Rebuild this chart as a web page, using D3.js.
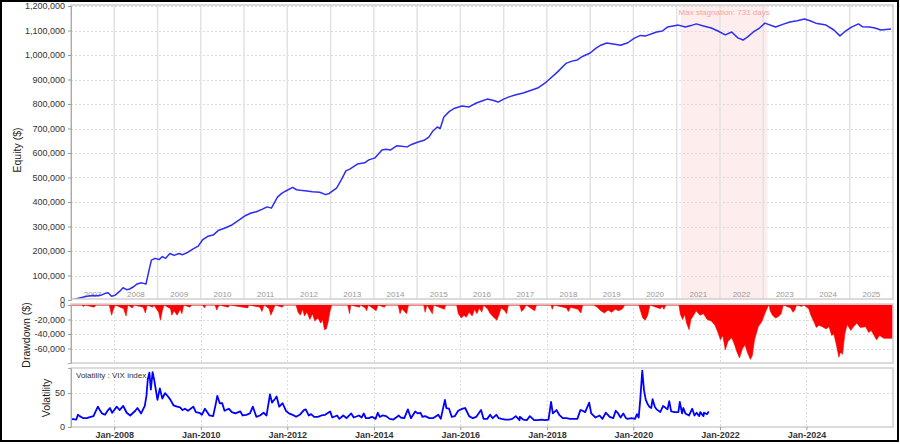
<!DOCTYPE html>
<html><head><meta charset="utf-8">
<script src="https://cdn.jsdelivr.net/npm/d3@7"></script>
<style>
html,body{margin:0;padding:0;background:#fff;}
svg{display:block;font-family:"Liberation Sans",Arial,sans-serif;}
</style></head>
<body>
<svg id="chart" width="900" height="444"></svg>
<script>
// ---------------- DATA ----------------
// Equity curve, values in thousands of dollars
const equityDates = ["2007-01-01","2007-02-15","2007-04-01","2007-05-15","2007-07-01","2007-08-15","2007-09-15","2007-10-20","2007-11-10","2007-12-10",
"2008-01-10","2008-02-15","2008-03-15","2008-04-15","2008-05-10","2008-06-15","2008-07-10","2008-08-20","2008-09-25","2008-10-20","2008-11-10","2008-12-10",
"2009-01-15","2009-02-10","2009-03-10","2009-04-15","2009-05-20","2009-07-01","2009-08-01","2009-09-15","2009-11-01","2009-12-10",
"2010-01-15","2010-03-01","2010-04-15","2010-06-01","2010-07-15","2010-09-15","2010-11-15",
"2011-01-15","2011-03-01","2011-04-15","2011-06-01","2011-07-15","2011-08-20","2011-10-10","2011-11-15","2011-12-20",
"2012-02-15","2012-03-20","2012-04-20","2012-06-15","2012-08-01","2012-10-01","2012-11-20","2012-12-20",
"2013-02-20","2013-04-01","2013-05-10","2013-06-15","2013-08-15","2013-10-15","2013-11-20",
"2014-01-10","2014-03-10","2014-04-15","2014-05-20","2014-07-15","2014-08-20","2014-10-10","2014-11-15",
"2015-01-10","2015-03-01","2015-04-10","2015-05-15","2015-06-20","2015-07-15","2015-08-15","2015-10-01","2015-11-15",
"2016-01-15","2016-03-15","2016-05-15","2016-07-01","2016-08-15","2016-10-01","2016-11-15",
"2017-01-01","2017-02-15","2017-04-15","2017-06-15","2017-08-15","2017-10-15","2017-12-15",
"2018-01-15","2018-04-01","2018-06-15","2018-08-01","2018-09-15","2018-11-01",
"2019-01-01","2019-02-20","2019-04-01","2019-05-20","2019-07-15","2019-09-15","2019-11-15",
"2020-01-10","2020-03-01","2020-04-15","2020-07-15","2020-09-01","2020-10-15","2020-12-01",
"2021-01-15","2021-03-15","2021-05-01","2021-06-15","2021-08-15","2021-10-20","2021-12-15",
"2022-02-15","2022-04-10","2022-06-01","2022-07-15","2022-08-20","2022-10-10","2022-12-01",
"2023-01-15","2023-04-15","2023-06-15","2023-08-15","2023-10-15","2023-12-15",
"2024-02-01","2024-03-20","2024-06-15","2024-08-20","2024-10-10","2024-11-20",
"2025-01-15","2025-03-15","2025-04-20","2025-06-15","2025-08-01","2025-09-20","2025-12-15"];
const equityValues = [0,5,10,15,18,17,20,28,30,15,
20,35,50,42,45,55,65,70,65,120,163,170,
165,177,170,190,182,190,185,195,210,220,
245,260,265,285,292,305,325,
345,355,360,370,380,375,420,435,445,
460,450,448,445,442,440,430,435,
457,490,527,535,555,560,572,
580,612,615,612,630,628,625,635,
645,652,665,690,706,700,747,770,783,
792,788,804,812,820,815,808,
820,829,838,845,855,865,885,
898,931,967,975,980,995,
1008,1028,1040,1049,1045,1040,1050,
1069,1080,1078,1094,1098,1114,1118,
1122,1114,1120,1127,1118,1110,1098,
1082,1094,1070,1061,1073,1094,1110,
1130,1114,1125,1135,1140,1147,
1140,1130,1122,1102,1078,1095,
1114,1127,1115,1114,1110,1102,1106];

// Drawdown, values in thousands of dollars
const drawdownDates = ["2007-01-01","2007-04-01","2007-04-15","2007-05-01","2007-07-15","2007-08-01","2007-11-20","2007-12-10","2007-12-25","2008-01-10",
"2008-03-20","2008-04-10","2008-04-25","2008-06-01","2008-06-15","2008-09-01","2008-09-20","2008-10-05","2008-11-20","2008-12-01",
"2009-01-10","2009-01-25","2009-02-10","2009-02-25","2009-04-20","2009-05-01","2009-05-20","2009-06-15","2009-07-10","2009-07-25","2009-08-10","2009-10-01","2009-10-15",
"2010-01-15","2010-02-01","2010-02-10","2010-05-01","2010-05-15","2010-06-05","2010-08-20","2010-09-01",
"2011-02-01","2011-02-10","2011-05-15","2011-06-01","2011-06-20","2011-08-01","2011-08-15","2011-09-01","2011-09-20","2011-11-20","2011-12-01",
"2012-03-15","2012-04-01","2012-04-20","2012-05-10","2012-05-25","2012-06-15","2012-07-10","2012-08-01","2012-08-20","2012-09-15","2012-10-10","2012-10-25","2012-11-10","2012-11-25","2012-12-10","2012-12-25",
"2013-01-10","2013-05-25","2013-06-10","2013-06-20","2013-09-01","2013-09-10","2013-10-20","2013-11-01","2013-11-15",
"2014-01-20","2014-02-05","2014-04-01","2014-04-10","2014-07-25","2014-08-10","2014-08-25","2014-10-05","2014-10-20",
"2015-02-25","2015-03-10","2015-03-25","2015-05-10","2015-05-20","2015-08-20","2015-08-30","2015-12-01","2015-12-15",
"2016-01-10","2016-02-01","2016-02-20","2016-03-15","2016-04-10","2016-05-01","2016-05-20","2016-06-10","2016-06-30","2016-07-15","2016-08-20","2016-09-10","2016-10-15","2016-11-05","2016-11-25","2016-12-10",
"2017-01-10","2017-01-25","2017-02-10","2017-05-15","2017-06-01","2017-06-20","2017-07-10","2017-09-20","2017-10-05",
"2018-02-05","2018-02-15","2018-02-28","2018-06-15","2018-07-01","2018-07-20","2018-09-20","2018-10-15","2018-10-30",
"2019-02-01","2019-03-01","2019-04-01","2019-05-01","2019-06-01","2019-07-01","2019-08-01","2019-09-01","2019-10-01","2019-10-20",
"2020-02-15","2020-03-01","2020-03-20","2020-04-10","2020-05-01","2020-05-20","2020-08-15","2020-09-01","2020-09-15","2020-10-01",
"2021-01-20","2021-02-01","2021-02-20","2021-03-10","2021-03-25","2021-04-15","2021-05-01","2021-05-20","2021-06-15","2021-07-15","2021-08-15","2021-09-15","2021-10-20","2021-11-20","2021-12-15",
"2022-01-05","2022-01-25","2022-02-15","2022-03-10","2022-04-10","2022-05-05","2022-05-25","2022-06-15","2022-07-10","2022-08-01","2022-08-20","2022-09-15","2022-10-01","2022-10-20","2022-11-20","2022-12-20",
"2023-01-20","2023-02-10","2023-02-20","2023-03-01","2023-03-20","2023-04-15","2023-05-10","2023-06-01","2023-06-20","2023-08-20","2023-09-10","2023-09-25","2023-10-10","2023-11-20","2023-12-10",
"2024-01-20","2024-02-10","2024-03-10","2024-03-25","2024-04-15","2024-05-15","2024-06-15","2024-07-10","2024-08-01","2024-08-20","2024-09-10","2024-10-01","2024-10-15","2024-11-01","2024-11-20","2024-12-10",
"2025-01-10","2025-02-01","2025-03-01","2025-04-01","2025-05-15","2025-06-10","2025-07-01","2025-08-15","2025-09-10","2025-10-15","2025-12-31"];
const drawdownValues = [0,0,-2,0,-3,0,0,-14,-6,0,
-5,-15,0,-4,0,-3,-11,0,-3,0,
-10,-21,-8,0,-5,-14,-8,-14,-6,-12,0,-3,0,
0,-4,0,0,-7,0,-3,0,
-4,0,-3,-9,0,-5,-14,-8,0,-3,0,
0,-10,-14,-6,-15,-10,-20,-12,-22,-18,-25,-20,-34,-33,-24,-10,
0,0,-12,0,-3,0,-4,-8,0,
-8,0,-3,0,0,-12,-5,-12,0,
0,-10,0,-12,0,-6,0,0,-12,
-18,-14,-17,-10,-15,-6,-12,-4,-10,0,-6,-12,-18,-21,-12,-4,
-8,-12,0,0,-9,-6,0,-8,0,
0,-6,0,-4,-9,-3,-6,-11,0,
0,-3,-8,-11,-7,-10,-6,-8,-5,0,
0,-8,-18,-21,-14,0,-5,-2,-6,0,
0,-13,-20,-13,-25,-34,-20,-15,-8,-14,-12,-20,-22,-28,-38,
-48,-42,-62,-50,-45,-55,-65,-73,-60,-55,-65,-75,-70,-48,-30,-23,
-10,-2,0,-8,-14,-18,-16,-12,0,-4,-10,-7,0,-2,0,
-5,-15,-25,-31,-28,-30,-33,-30,-42,-40,-55,-72,-65,-68,-40,-27,
-35,-30,-25,-31,-30,-38,-35,-48,-42,-46,-46];

// Volatility (VIX index)
const vixDates = ["2007-01-01","2007-02-15","2007-02-28","2007-03-15","2007-04-15","2007-05-15","2007-06-15","2007-07-10","2007-07-31","2007-08-16","2007-09-01","2007-09-20","2007-10-15","2007-11-10","2007-11-26","2007-12-15",
"2008-01-22","2008-02-15","2008-03-17","2008-04-15","2008-05-15","2008-06-27","2008-07-15","2008-08-15","2008-09-15","2008-09-29","2008-10-10","2008-10-24","2008-11-05","2008-11-20","2008-12-05","2008-12-31",
"2009-01-20","2009-02-10","2009-03-05","2009-03-30","2009-04-20","2009-05-15","2009-06-15","2009-07-10","2009-07-31","2009-08-20","2009-09-15","2009-10-30","2009-11-20","2009-12-20",
"2010-01-10","2010-02-05","2010-03-15","2010-04-15","2010-05-06","2010-05-20","2010-06-10","2010-07-01","2010-07-20","2010-08-25","2010-09-20","2010-10-20","2010-11-30","2010-12-20",
"2011-01-20","2011-02-20","2011-03-16","2011-04-15","2011-05-15","2011-06-15","2011-07-10","2011-08-08","2011-08-25","2011-09-22","2011-10-03","2011-10-25","2011-11-23","2011-12-20",
"2012-01-15","2012-02-15","2012-03-15","2012-04-15","2012-05-20","2012-06-05","2012-06-30","2012-07-20","2012-08-15","2012-09-15","2012-10-15","2012-11-15","2012-12-28",
"2013-01-15","2013-02-25","2013-03-15","2013-04-18","2013-05-15","2013-06-24","2013-07-15","2013-08-28","2013-09-20","2013-10-08","2013-10-25","2013-11-20","2013-12-15",
"2014-01-15","2014-02-03","2014-02-20","2014-03-15","2014-04-15","2014-05-15","2014-06-15","2014-07-31","2014-08-15","2014-09-15","2014-10-15","2014-11-10","2014-12-16",
"2015-01-05","2015-01-30","2015-02-15","2015-03-10","2015-04-15","2015-05-15","2015-06-29","2015-07-20","2015-08-24","2015-09-05","2015-09-28","2015-10-20","2015-11-15","2015-12-14",
"2016-01-20","2016-02-11","2016-03-15","2016-04-15","2016-05-15","2016-06-24","2016-07-15","2016-08-15","2016-09-09","2016-09-30","2016-10-31","2016-11-20","2016-12-15",
"2017-01-15","2017-02-15","2017-03-15","2017-04-13","2017-05-15","2017-05-17","2017-06-15","2017-07-15","2017-08-10","2017-09-15","2017-10-15","2017-11-15","2017-12-15",
"2018-01-15","2018-02-05","2018-02-20","2018-03-23","2018-04-15","2018-05-15","2018-06-15","2018-07-15","2018-08-15","2018-09-15","2018-10-11","2018-10-29","2018-11-20","2018-12-24",
"2019-01-10","2019-02-15","2019-03-22","2019-04-15","2019-05-13","2019-05-31","2019-06-15","2019-07-15","2019-08-05","2019-08-25","2019-09-15","2019-10-08","2019-10-30","2019-11-15","2019-12-15",
"2020-01-15","2020-01-31","2020-02-15","2020-02-28","2020-03-16","2020-03-31","2020-04-15","2020-04-30","2020-05-15","2020-05-31","2020-06-11","2020-06-30","2020-07-15","2020-08-15","2020-09-08","2020-09-24","2020-10-15","2020-10-30","2020-11-15","2020-12-15",
"2021-01-15","2021-01-27","2021-02-15","2021-02-26","2021-03-15","2021-04-15","2021-05-12","2021-05-31","2021-06-18","2021-07-10","2021-07-19","2021-08-15","2021-08-19","2021-09-15","2021-09-28"];
const vixValues = [12,11,18,16,13,13,15,16,24,30,25,20,18,25,28,21,
30,25,31,21,17,24,28,20,31,46,70,80,55,81,68,40,
57,42,50,45,40,32,30,29,25,27,24,30,22,21,
18,27,17,16,33,46,35,35,24,27,22,20,23,17,
18,20,30,15,17,21,17,48,36,42,45,30,35,24,
20,18,15,18,25,26,17,19,15,15,17,18,23,
14,17,12,17,13,20,14,17,14,20,13,13,15,
12,21,15,17,16,12,11,17,14,13,26,13,23,
20,21,15,16,13,13,18,12,40,28,27,15,16,24,
27,28,16,13,15,25,12,12,18,13,18,13,12,
11,11,12,16,10,15,11,10,16,10,10,11,10,
11,37,20,25,18,13,13,12,12,12,25,24,22,36,
20,14,17,12,21,18,15,13,24,20,14,20,13,12,13,
12,19,14,40,83,54,40,34,30,28,41,30,26,22,31,29,26,38,23,22,
22,37,20,28,20,17,27,17,21,16,22,16,21,19,23];

// Axis tick values / labels
const equityTicks = [0,100000,200000,300000,400000,500000,600000,700000,800000,900000,1000000,1100000,1200000];
const drawdownTicks = [0,-20000,-40000,-60000];
const vixTicks = [0,50];
const yearLabels = [2007,2008,2009,2010,2011,2012,2013,2014,2015,2016,2017,2018,2019,2020,2021,2022,2023,2024,2025];
const bottomTickYears = [2008,2010,2012,2014,2016,2018,2020,2022,2024];
const stagnationStart = "2021-02-05";
const stagnationDays = 731;
const stagnationLabel = "Max stagnation: " + stagnationDays + " days";

// ---------------- DRAWING ----------------
const parse = d3.timeParse("%Y-%m-%d");
const svg = d3.select("#chart");
const L = 71, R = 893;
const P1 = {top: 5, bottom: 299};
const P2 = {top: 304, bottom: 363};
const P3 = {top: 368, bottom: 427};

const x = d3.scaleTime().domain([new Date(2007,0,1), new Date(2026,0,1)]).range([L, R]);
const yEq = d3.scaleLinear().domain([0, 1200000]).range([300, 6]);
const yDD = d3.scaleLinear().domain([-80000, 0]).range([363, 305]);
const yVol = d3.scaleLinear().domain([0, 87]).range([427, 368]);

const eq = equityDates.map((d,i) => ({date: parse(d), v: equityValues[i]*1000}));
const dd = drawdownDates.map((d,i) => ({date: parse(d), v: drawdownValues[i]*1000}));
const vix = vixDates.map((d,i) => ({date: parse(d), v: vixValues[i]}));

svg.append("rect").attr("width",900).attr("height",444).attr("fill","#fff");

// clip paths
const defs = svg.append("defs");
[["c1",P1],["c2",P2],["c3",P3]].forEach(([id,p]) => {
  defs.append("clipPath").attr("id",id).append("rect")
    .attr("x",L).attr("y",p.top).attr("width",R-L).attr("height",p.bottom-p.top);
});

const fmt = d => d3.format(",")(d).replace("\u2212","-");
const gridColor = "#dcdcdc";

// ---- Panel 1: equity ----
const g1 = svg.append("g");
// stagnation band
const s0 = parse(stagnationStart), s1 = d3.timeDay.offset(s0, stagnationDays);
g1.append("rect").attr("x",x(s0)).attr("y",P1.top).attr("width",x(s1)-x(s0)).attr("height",P1.bottom-P1.top)
  .attr("fill","#fdeded");
// horizontal grid
g1.selectAll(".hg").data(equityTicks.slice(1)).join("line")
  .attr("x1",L).attr("x2",R).attr("y1",d=>Math.round(yEq(d))+0.5).attr("y2",d=>Math.round(yEq(d))+0.5)
  .attr("stroke",gridColor).attr("stroke-dasharray","2,2");
// year separators
g1.selectAll(".ys").data(yearLabels.slice(1)).join("line")
  .attr("x1",d=>x(new Date(d,0,1))).attr("x2",d=>x(new Date(d,0,1)))
  .attr("y1",P1.top).attr("y2",P1.bottom)
  .attr("stroke","#e2e2e2").attr("stroke-width",1.5);
// year labels
g1.selectAll(".yl").data(yearLabels).join("text")
  .attr("x",d=>(x(new Date(d,0,1))+x(new Date(d+1,0,1)))/2).attr("y",296.5)
  .attr("text-anchor","middle").attr("font-size",8).attr("fill","#999").text(d=>d);
// stagnation label
g1.append("text").attr("x",(x(s0)+x(s1))/2).attr("y",14.5).attr("text-anchor","middle")
  .attr("font-size",8).attr("fill","#f4a4a4").text(stagnationLabel);
// equity line
g1.append("path").datum(eq).attr("clip-path","url(#c1)")
  .attr("d", d3.line().x(d=>x(d.date)).y(d=>yEq(d.v)))
  .attr("fill","none").attr("stroke","#2d2df5").attr("stroke-width",1.5).attr("stroke-linejoin","round");
// border
g1.append("rect").attr("x",L).attr("y",P1.top).attr("width",R-L).attr("height",P1.bottom-P1.top)
  .attr("fill","none").attr("stroke","#cfcfcf").attr("stroke-width",1.5);
// axis
const a1 = svg.append("g").attr("transform",`translate(${L},0)`)
  .call(d3.axisLeft(yEq).tickValues(equityTicks).tickFormat(fmt).tickSize(3).tickPadding(3));

// ---- Panel 2: drawdown ----
const g2 = svg.append("g");
g2.selectAll(".hg").data(drawdownTicks.slice(1)).join("line")
  .attr("x1",L).attr("x2",R).attr("y1",d=>Math.round(yDD(d))+0.5).attr("y2",d=>Math.round(yDD(d))+0.5)
  .attr("stroke",gridColor).attr("stroke-dasharray","2,2");
g2.selectAll(".vg").data(bottomTickYears).join("line")
  .attr("x1",d=>Math.round(x(new Date(d,0,1)))+0.5).attr("x2",d=>Math.round(x(new Date(d,0,1)))+0.5)
  .attr("y1",P2.top).attr("y2",P2.bottom).attr("stroke",gridColor).attr("stroke-dasharray","2,2");
g2.append("path").datum(dd).attr("clip-path","url(#c2)")
  .attr("d", d3.area().x(d=>x(d.date)).y0(yDD(0)).y1(d=>yDD(d.v)))
  .attr("fill","#ff0000").attr("stroke","#ff0000").attr("stroke-width",0.6);
g2.append("rect").attr("x",L).attr("y",P2.top).attr("width",R-L).attr("height",P2.bottom-P2.top)
  .attr("fill","none").attr("stroke","#cfcfcf").attr("stroke-width",1.5);
svg.append("g").attr("transform",`translate(${L},0)`)
  .call(d3.axisLeft(yDD).tickValues(drawdownTicks).tickFormat(fmt).tickSize(3).tickPadding(3));

// ---- Panel 3: volatility ----
const g3 = svg.append("g");
g3.selectAll(".hg").data(vixTicks.slice(1)).join("line")
  .attr("x1",L).attr("x2",R).attr("y1",d=>Math.round(yVol(d))+0.5).attr("y2",d=>Math.round(yVol(d))+0.5)
  .attr("stroke",gridColor).attr("stroke-dasharray","2,2");
g3.selectAll(".vg").data(bottomTickYears).join("line")
  .attr("x1",d=>Math.round(x(new Date(d,0,1)))+0.5).attr("x2",d=>Math.round(x(new Date(d,0,1)))+0.5)
  .attr("y1",P3.top).attr("y2",P3.bottom).attr("stroke",gridColor).attr("stroke-dasharray","2,2");
g3.append("path").datum(vix).attr("clip-path","url(#c3)")
  .attr("d", d3.line().x(d=>x(d.date)).y(d=>yVol(d.v)))
  .attr("fill","none").attr("stroke","#0000ff").attr("stroke-width",1.8).attr("stroke-linejoin","round");
g3.append("rect").attr("x",L).attr("y",P3.top).attr("width",R-L).attr("height",P3.bottom-P3.top)
  .attr("fill","none").attr("stroke","#cfcfcf").attr("stroke-width",1.5);
g3.append("text").attr("x",L+5).attr("y",P3.top+10).attr("font-size",8).attr("fill","#333")
  .text("Volatility : VIX index");
svg.append("g").attr("transform",`translate(${L},0)`)
  .call(d3.axisLeft(yVol).tickValues(vixTicks).tickSize(3).tickPadding(3));

// bottom axis
svg.append("g").attr("transform",`translate(0,${P3.bottom})`)
  .call(d3.axisBottom(x).tickValues(bottomTickYears.map(y=>new Date(y,0,1)))
    .tickFormat(d3.timeFormat("%b-%Y")).tickSize(3).tickPadding(2))
  .call(g => g.select(".domain").remove())
  .selectAll("text").attr("font-weight","bold").attr("font-size",9).attr("fill","#333");

// axis styling
svg.selectAll(".tick text").filter(function(){return !this.getAttribute("font-size");})
  .attr("font-size",9).attr("fill","#333");
svg.selectAll(".domain").attr("stroke","#aaa");
svg.selectAll(".tick line").attr("stroke","#999");
svg.selectAll("g.tick text").style("font-family",'"Liberation Sans",Arial,sans-serif');

// y titles
const title = (txt, tx, ty) => svg.append("text").attr("transform",`translate(${tx},${ty}) rotate(-90)`)
  .attr("text-anchor","middle").attr("font-size",10.5).attr("fill","#222").text(txt);
title("Equity ($)", 21, 150);
title("Drawdown ($)", 30, 335);
title("Volatility", 50, 398);

// outer frame
svg.append("rect").attr("x",1).attr("y",1).attr("width",897).attr("height",440)
  .attr("fill","none").attr("stroke","#000").attr("stroke-width",2);
</script>
</body></html>
